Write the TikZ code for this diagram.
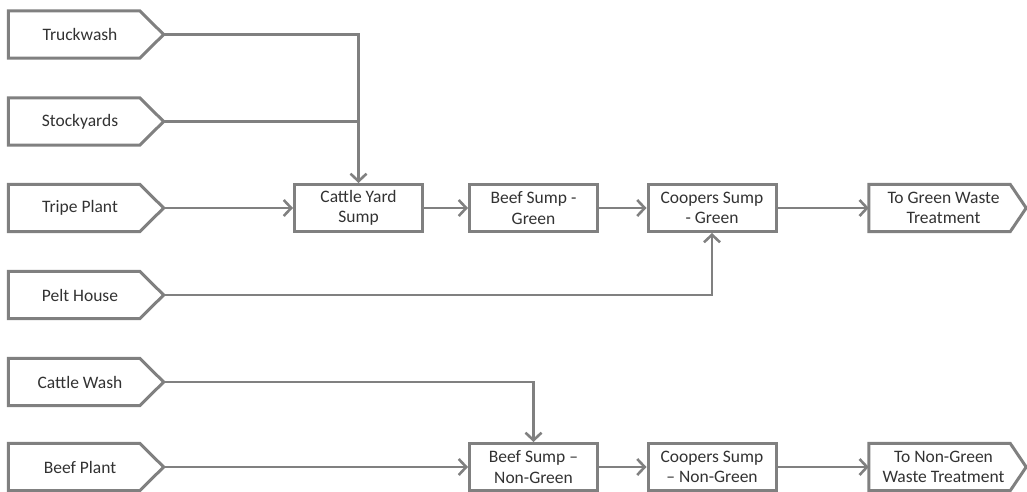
\documentclass[tikz,border=0pt]{standalone}
\usepackage{fontspec}
\setmainfont{Carlito}
\usetikzlibrary{arrows.meta}
\definecolor{lineg}{RGB}{128,128,128}
\definecolor{textg}{RGB}{50,50,50}
\tikzset{
  srcnode/.style={rectangle, draw=none, minimum width=143pt, minimum height=47pt, inner sep=0pt,
    font=\fontsize{17.5}{20.5}\selectfont, text=textg, align=center},
  outnode/.style={rectangle, draw=none, minimum width=149pt, minimum height=47pt, inner sep=0pt,
    font=\fontsize{17.5}{20.5}\selectfont, text=textg, align=center},
  sumpbox/.style={rectangle, draw=lineg, line width=3pt, minimum width=128pt, minimum height=47pt,
    inner sep=0pt, font=\fontsize{17.5}{20.5}\selectfont, text=textg, align=center},
  outline/.style={draw=lineg, line width=3pt},
  flow/.style={draw=lineg, line width=2.6pt, -{Straight Barb[length=7.5pt,width=16pt,line width=2.6pt]}},
  plain/.style={draw=lineg, line width=2.6pt}
}
\newcommand\srcshape[1]{%
  \draw[outline] (#1.north west) -- ([xshift=-12pt]#1.north east) -- ([xshift=12pt]#1.east)
    -- ([xshift=-12pt]#1.south east) -- (#1.south west) -- cycle;
  \coordinate (#1-tip) at ([xshift=12pt]#1.east);}
\newcommand\outshape[1]{%
  \draw[outline] (#1.north west) -- ([xshift=-8pt]#1.north east) -- ([xshift=8pt]#1.east)
    -- ([xshift=-8pt]#1.south east) -- (#1.south west) -- cycle;}
\begin{document}
\begin{tikzpicture}[x=1pt, y=-1pt]
\useasboundingbox (0,0) rectangle (1027,492);
% sources
\node[srcnode] (tw) at (80,34.5) {Truckwash};
\node[srcnode] (sy) at (80,121.5) {Stockyards};
\node[srcnode] (tp) at (80,208) {Tripe Plant};
\node[srcnode] (ph) at (80,295) {Pelt House};
\node[srcnode] (cw) at (80,382) {Cattle Wash};
\node[srcnode] (bp) at (80,467) {Beef Plant};
\srcshape{tw}\srcshape{sy}\srcshape{tp}\srcshape{ph}\srcshape{cw}\srcshape{bp}
% green row
\node[sumpbox] (cys) at (358.5,208) {Cattle Yard\\Sump};
\node[sumpbox] (bsg) at (533.5,208) {Beef Sump -\\Green};
\node[sumpbox] (csg) at (712,208) {Coopers Sump\\- Green};
\node[outnode] (tgw) at (943.5,208) {To Green Waste\\Treatment};
\outshape{tgw}
% non-green row
\node[sumpbox] (bsn) at (533.5,467) {Beef Sump –\\Non-Green};
\node[sumpbox] (csn) at (712,467) {Coopers Sump\\– Non-Green};
\node[outnode] (tnw) at (943.5,467) {To Non-Green\\Waste Treatment};
\outshape{tnw}
% connectors
\draw[flow] (tw-tip) -| (cys.north);
\draw[plain] (sy-tip) -- (sy-tip -| cys.north);
\draw[flow] (tp-tip) -- (cys.west);
\draw[flow] (cys.east) -- (bsg.west);
\draw[flow] (bsg.east) -- (csg.west);
\draw[flow] (csg.east) -- (tgw.west);
\draw[flow] (ph-tip) -| (csg.south);
\draw[flow] (cw-tip) -| (bsn.north);
\draw[flow] (bp-tip) -- (bsn.west);
\draw[flow] (bsn.east) -- (csn.west);
\draw[flow] (csn.east) -- (tnw.west);
\end{tikzpicture}
\end{document}
